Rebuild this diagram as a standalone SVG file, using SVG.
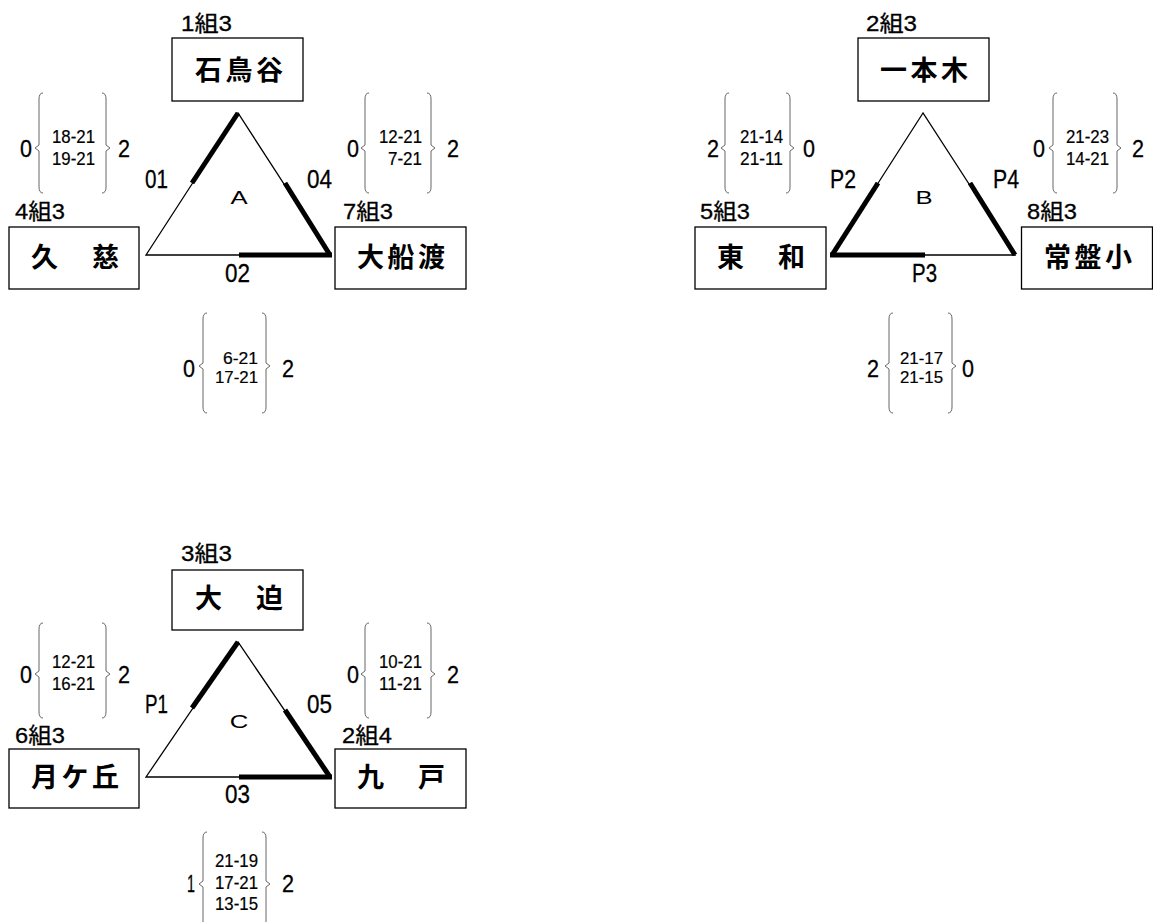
<svg xmlns="http://www.w3.org/2000/svg" width="1153" height="922" viewBox="0 0 1153 922">
<style>
.bg{fill:#fff}
.box{fill:#fff;stroke:#000;stroke-width:1.3}
.name{font-family:"Noto Sans CJK JP","Noto Sans CJK SC",sans-serif;font-weight:bold;font-size:27px;text-anchor:middle;fill:#000}
.grp{font-family:"Liberation Sans","Noto Sans CJK JP",sans-serif;font-size:22px;fill:#000;stroke:#000;stroke-width:0.3}
.tri{fill:none;stroke:#000;stroke-width:1.3;stroke-linejoin:miter}
.thick{stroke:#000;stroke-width:5;stroke-linecap:butt;fill:none}
.pool{font-family:"Liberation Sans",sans-serif;font-size:19px;text-anchor:middle;fill:#000}
.mlab{font-family:"Liberation Sans",sans-serif;font-size:26px;fill:#000;stroke:#000;stroke-width:0.3}
.brace{fill:none;stroke:#666;stroke-width:1}
.res{font-family:"Liberation Sans",sans-serif;font-size:24px;fill:#000;stroke:#000;stroke-width:0.3}
.sc{font-family:"Liberation Sans",sans-serif;font-size:18px;text-anchor:end;fill:#000;stroke:#000;stroke-width:0.2}
.sc2{font-family:"Liberation Sans",sans-serif;font-size:16px;text-anchor:end;fill:#000;stroke:#000;stroke-width:0.2}
</style>
<rect class="bg" x="0" y="0" width="1153" height="922"/>

<!-- Pool A -->
<g id="node-ishidoriya">
<text class="grp" x="181" y="31" textLength="51" lengthAdjust="spacingAndGlyphs">1組3</text>
<rect class="box" x="172" y="38" width="131" height="63"/>
<text class="name" x="239" y="80" textLength="88" lengthAdjust="spacing">石鳥谷</text>
</g>
<g id="node-kuji">
<text class="grp" x="15" y="219" textLength="50" lengthAdjust="spacingAndGlyphs">4組3</text>
<rect class="box" x="9" y="227" width="130" height="62"/>
<text class="name" x="75" y="267" textLength="88" lengthAdjust="spacing">久　慈</text>
</g>
<g id="node-ofunato">
<text class="grp" x="343" y="219" textLength="50" lengthAdjust="spacingAndGlyphs">7組3</text>
<rect class="box" x="335" y="227" width="131" height="62"/>
<text class="name" x="401" y="267" textLength="88" lengthAdjust="spacing">大船渡</text>
</g>

<!-- Pool B -->
<g id="node-ipponki">
<text class="grp" x="866" y="31" textLength="51" lengthAdjust="spacingAndGlyphs">2組3</text>
<rect class="box" x="858" y="38" width="131" height="63"/>
<text class="name" x="924" y="80" textLength="88" lengthAdjust="spacing">一本木</text>
</g>
<g id="node-towa">
<text class="grp" x="700" y="219" textLength="50" lengthAdjust="spacingAndGlyphs">5組3</text>
<rect class="box" x="695" y="227" width="131" height="62"/>
<text class="name" x="761" y="267" textLength="88" lengthAdjust="spacing">東　和</text>
</g>
<g id="node-tokiwa">
<text class="grp" x="1027" y="219" textLength="50" lengthAdjust="spacingAndGlyphs">8組3</text>
<rect class="box" x="1021.5" y="227" width="131" height="62"/>
<text class="name" x="1088" y="267" textLength="88" lengthAdjust="spacing">常盤小</text>
</g>

<!-- Pool C -->
<g id="node-osako">
<text class="grp" x="181" y="561" textLength="51" lengthAdjust="spacingAndGlyphs">3組3</text>
<rect class="box" x="172" y="570" width="131" height="60"/>
<text class="name" x="239" y="608" textLength="88" lengthAdjust="spacing">大　迫</text>
</g>
<g id="node-tsukigaoka">
<text class="grp" x="15" y="743" textLength="50" lengthAdjust="spacingAndGlyphs">6組3</text>
<rect class="box" x="9" y="749" width="130" height="59"/>
<text class="name" x="75" y="787" textLength="88" lengthAdjust="spacing">月ケ丘</text>
</g>
<g id="node-kunohe">
<text class="grp" x="342" y="743" textLength="50" lengthAdjust="spacingAndGlyphs">2組4</text>
<rect class="box" x="335" y="749" width="131" height="59"/>
<text class="name" x="401" y="787" textLength="88" lengthAdjust="spacing">九　戸</text>
</g>

<!-- Connectors: triangles -->
<g id="connectors">
<polygon class="tri" points="238,113 146,255 330,255"/>
<line class="thick" x1="238" y1="113" x2="192" y2="183"/>
<line class="thick" x1="285" y1="183" x2="330" y2="255"/>
<line class="thick" x1="239" y1="255" x2="332" y2="255"/>

<polygon class="tri" points="923,113 832,255 1015,255"/>
<line class="thick" x1="878" y1="183" x2="832" y2="255"/>
<line class="thick" x1="970" y1="183" x2="1015" y2="255"/>
<line class="thick" x1="830" y1="255" x2="925" y2="255"/>

<polygon class="tri" points="238,642 146,777 330,777"/>
<line class="thick" x1="238" y1="642" x2="192" y2="708"/>
<line class="thick" x1="285" y1="710" x2="330" y2="777"/>
<line class="thick" x1="239" y1="777" x2="332" y2="777"/>
</g>

<!-- Pool and match labels -->
<g id="labels">
<text class="pool" transform="translate(239,203.5) scale(1.35,1)">A</text>
<text class="mlab" x="145" y="188" textLength="23" lengthAdjust="spacingAndGlyphs">01</text>
<text class="mlab" x="307" y="188" textLength="25" lengthAdjust="spacingAndGlyphs">04</text>
<text class="mlab" x="225" y="282" textLength="25" lengthAdjust="spacingAndGlyphs">02</text>

<text class="pool" transform="translate(924,203.5) scale(1.35,1)">B</text>
<text class="mlab" x="830" y="188" textLength="26" lengthAdjust="spacingAndGlyphs">P2</text>
<text class="mlab" x="993" y="188" textLength="26" lengthAdjust="spacingAndGlyphs">P4</text>
<text class="mlab" x="912" y="282" textLength="25" lengthAdjust="spacingAndGlyphs">P3</text>

<text class="pool" transform="translate(239,727.5) scale(1.35,1)">C</text>
<text class="mlab" x="145" y="713" textLength="23" lengthAdjust="spacingAndGlyphs">P1</text>
<text class="mlab" x="307" y="713" textLength="25" lengthAdjust="spacingAndGlyphs">05</text>
<text class="mlab" x="225" y="803" textLength="25" lengthAdjust="spacingAndGlyphs">03</text>
</g>

<!-- Score braces -->
<g id="scores">
<!-- A left -->
<path class="brace" d="M43,93 Q39,93 39,99 L39,145 L35,148 L39,151 L39,187 Q39,193 43,193"/>
<path class="brace" d="M102,93 Q106,93 106,99 L106,145 L110,148 L106,151 L106,187 Q106,193 102,193"/>
<text class="res" x="20" y="157" textLength="12" lengthAdjust="spacingAndGlyphs">0</text><text class="res" x="118" y="157" textLength="12" lengthAdjust="spacingAndGlyphs">2</text>
<text class="sc" x="95" y="143" textLength="43" lengthAdjust="spacingAndGlyphs">18-21</text>
<text class="sc" x="95" y="165" textLength="43" lengthAdjust="spacingAndGlyphs">19-21</text>
<!-- A right -->
<path class="brace" d="M369,93 Q365,93 365,99 L365,145 L361,148 L365,151 L365,187 Q365,193 369,193"/>
<path class="brace" d="M427,93 Q431,93 431,99 L431,145 L435,148 L431,151 L431,187 Q431,193 427,193"/>
<text class="res" x="347" y="157" textLength="12" lengthAdjust="spacingAndGlyphs">0</text><text class="res" x="447" y="157" textLength="12" lengthAdjust="spacingAndGlyphs">2</text>
<text class="sc" x="422" y="143" textLength="43" lengthAdjust="spacingAndGlyphs">12-21</text>
<text class="sc" x="422" y="165" textLength="34" lengthAdjust="spacingAndGlyphs">7-21</text>
<!-- A bottom -->
<path class="brace" d="M207,313 Q203,313 203,319 L203,363 L199,366 L203,369 L203,407 Q203,413 207,413"/>
<path class="brace" d="M262,313 Q266,313 266,319 L266,363 L270,366 L266,369 L266,407 Q266,413 262,413"/>
<text class="res" x="183" y="377" textLength="12" lengthAdjust="spacingAndGlyphs">0</text><text class="res" x="282" y="377" textLength="12" lengthAdjust="spacingAndGlyphs">2</text>
<text class="sc2" x="258" y="364" textLength="35" lengthAdjust="spacingAndGlyphs">6-21</text>
<text class="sc2" x="258" y="383" textLength="43" lengthAdjust="spacingAndGlyphs">17-21</text>

<!-- B left -->
<path class="brace" d="M729,93 Q725,93 725,99 L725,145 L721,148 L725,151 L725,187 Q725,193 729,193"/>
<path class="brace" d="M786,93 Q790,93 790,99 L790,145 L794,148 L790,151 L790,187 Q790,193 786,193"/>
<text class="res" x="707" y="157" textLength="12" lengthAdjust="spacingAndGlyphs">2</text><text class="res" x="803" y="157" textLength="12" lengthAdjust="spacingAndGlyphs">0</text>
<text class="sc" x="783" y="143" textLength="43" lengthAdjust="spacingAndGlyphs">21-14</text>
<text class="sc" x="783" y="165" textLength="43" lengthAdjust="spacingAndGlyphs">21-11</text>
<!-- B right -->
<path class="brace" d="M1057,93 Q1053,93 1053,99 L1053,145 L1049,148 L1053,151 L1053,187 Q1053,193 1057,193"/>
<path class="brace" d="M1113,93 Q1117,93 1117,99 L1117,145 L1121,148 L1117,151 L1117,187 Q1117,193 1113,193"/>
<text class="res" x="1033" y="157" textLength="12" lengthAdjust="spacingAndGlyphs">0</text><text class="res" x="1132" y="157" textLength="12" lengthAdjust="spacingAndGlyphs">2</text>
<text class="sc" x="1109" y="143" textLength="43" lengthAdjust="spacingAndGlyphs">21-23</text>
<text class="sc" x="1109" y="165" textLength="43" lengthAdjust="spacingAndGlyphs">14-21</text>
<!-- B bottom -->
<path class="brace" d="M893,313 Q889,313 889,319 L889,363 L885,366 L889,369 L889,407 Q889,413 893,413"/>
<path class="brace" d="M948,313 Q952,313 952,319 L952,363 L956,366 L952,369 L952,407 Q952,413 948,413"/>
<text class="res" x="867" y="377" textLength="12" lengthAdjust="spacingAndGlyphs">2</text><text class="res" x="962" y="377" textLength="12" lengthAdjust="spacingAndGlyphs">0</text>
<text class="sc2" x="943" y="364" textLength="43" lengthAdjust="spacingAndGlyphs">21-17</text>
<text class="sc2" x="943" y="383" textLength="43" lengthAdjust="spacingAndGlyphs">21-15</text>

<!-- C left -->
<path class="brace" d="M43,623 Q39,623 39,629 L39,671 L35,674 L39,677 L39,712 Q39,718 43,718"/>
<path class="brace" d="M102,623 Q106,623 106,629 L106,671 L110,674 L106,677 L106,712 Q106,718 102,718"/>
<text class="res" x="20" y="683" textLength="12" lengthAdjust="spacingAndGlyphs">0</text><text class="res" x="118" y="683" textLength="12" lengthAdjust="spacingAndGlyphs">2</text>
<text class="sc" x="95" y="668" textLength="43" lengthAdjust="spacingAndGlyphs">12-21</text>
<text class="sc" x="95" y="690" textLength="43" lengthAdjust="spacingAndGlyphs">16-21</text>
<!-- C right -->
<path class="brace" d="M369,623 Q365,623 365,629 L365,671 L361,674 L365,677 L365,712 Q365,718 369,718"/>
<path class="brace" d="M427,623 Q431,623 431,629 L431,671 L435,674 L431,677 L431,712 Q431,718 427,718"/>
<text class="res" x="347" y="683" textLength="12" lengthAdjust="spacingAndGlyphs">0</text><text class="res" x="447" y="683" textLength="12" lengthAdjust="spacingAndGlyphs">2</text>
<text class="sc" x="422" y="668" textLength="43" lengthAdjust="spacingAndGlyphs">10-21</text>
<text class="sc" x="422" y="690" textLength="43" lengthAdjust="spacingAndGlyphs">11-21</text>
<!-- C bottom -->
<path class="brace" d="M207,832 Q203,832 203,838 L203,881 L199,884 L203,887 L203,939 Q203,945 207,945"/>
<path class="brace" d="M262,832 Q266,832 266,838 L266,881 L270,884 L266,887 L266,939 Q266,945 262,945"/>
<text class="res" x="187" y="892" textLength="8" lengthAdjust="spacingAndGlyphs">1</text><text class="res" x="282" y="892" textLength="12" lengthAdjust="spacingAndGlyphs">2</text>
<text class="sc" x="258" y="867" textLength="43" lengthAdjust="spacingAndGlyphs">21-19</text>
<text class="sc" x="258" y="888.5" textLength="43" lengthAdjust="spacingAndGlyphs">17-21</text>
<text class="sc" x="258" y="910" textLength="43" lengthAdjust="spacingAndGlyphs">13-15</text>
</g>
</svg>
